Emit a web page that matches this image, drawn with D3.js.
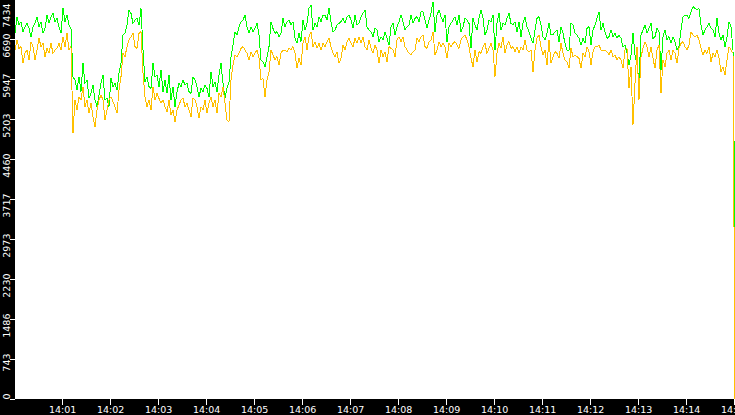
<!DOCTYPE html>
<html>
<head>
<meta charset="utf-8">
<script src="https://cdn.jsdelivr.net/npm/d3@7"></script>
<style>
  html, body { margin: 0; padding: 0; background: #000; }
  svg { display: block; }
</style>
</head>
<body>
<svg id="chart" width="735" height="415"></svg>
<script>
// ---- data ----
const startTime = new Date(2020, 0, 1, 14, 0, 1);
const stepMs = 2500;

const yTickValues = [0, 743, 1486, 2230, 2973, 3717, 4460, 5203, 5947, 6690, 7434];
const yTickLabels = ["0", "743", "1486", "2230", "2973", "3717", "4460", "5203", "5947", "6690", "7434"];

const greenValues = [
  // 14:00:01 ...
  6796,7105,6950,7012,6826,6919,6981,6888,6734,6919,6981,7105,6919,7012,6796,6888,7136,6981,7105,7167,7012,7074,6919,6796,7260,7012,7136,6950,6888,5990,5928,5742,5990,5711,6238,5866,5928,5587,5680,5835,5557,5433,5649,5866,6021,
  5557,5587,5433,5959,5804,5866,5742,6052,6238,6765,6796,6950,7229,7167,6981,7043,7074,6950,7260,6486,5897,5990,5804,5773,6238,5990,6021,5804,6114,5711,5928,5680,6021,5557,5804,5433,5711,5866,5804,5928,5835,5866,5711,5680,5990,
  5928,5804,5618,5773,5711,5835,5773,5618,6083,5804,5897,5711,6021,6238,5866,5587,5773,5897,6362,6579,6826,6765,6919,7012,7043,7136,6919,6796,6919,6826,6888,6981,6765,6300,6269,6176,6362,6548,7012,6888,6796,6826,6734,6796,7074,
  6919,7012,7043,6950,7012,6703,6610,6796,6641,7043,6857,6981,7260,7322,6857,6981,6919,7105,7012,7136,7136,7043,7260,7012,6826,6857,6950,6981,7012,7074,6981,7105,7136,7043,6888,7136,6950,6981,7105,7167,7229,6919,6857,6826,6734,
  6888,6857,6641,6734,6672,6826,6703,6579,6919,6981,6765,6919,7012,7136,7012,6857,6919,6950,7136,6981,7074,7105,7012,7198,7198,7043,6888,7043,7167,7384,6826,7136,7229,7105,7012,7136,6641,6919,6981,7043,7105,6950,7136,6826,6919,7074,7043,6981,6517,7074,6950,6857,7074,7229,7074,6765,6857,7043,
  7012,7136,6486,6981,7167,6857,6981,6950,7074,7167,6981,6950,7012,6826,7012,6734,6981,7105,6919,6826,6703,6610,6857,7074,7105,6950,6734,6672,6796,6981,6765,6765,6826,6857,6641,6919,6796,6610,6486,6486,6981,6950,6796,6765,6703,6579,6703,6610,6888,6919,6579,6857,6950,7074,7198,
  6857,6981,6826,6703,6734,6857,6734,6796,6703,6765,6703,6548,6579,6424,6207,6393,6796,6393,6207,5928,6765,6857,6950,6796,6888,6981,6703,6734,6888,6826,6114,6734,6857,6672,6734,6610,6734,6641,6486,6548,6857,7105,7136,7136,7074,7198,7291,7260,7229,7260,6950,6765,6857,6919,6981,6888,6857,6734,7074,6796,6672,6765,6548,6734,7012,6919,6486,
  3140
];

const orangeValues = [
  6486,6672,6517,6548,6238,6424,6486,6300,6641,6548,6300,6486,6703,6548,6610,6362,6517,6424,6610,6424,6486,6517,6610,6486,6734,6548,6796,6486,6548,4937,5557,5371,5618,5557,5804,5433,5557,5309,5495,5247,5061,5371,5557,5649,5557,
  5185,5371,5557,5618,5526,5433,5309,5742,5990,6424,6362,6548,6672,6734,6796,6548,6517,6796,6826,6052,5618,5433,5557,5371,5804,5557,5680,5587,5495,5557,5433,5340,5557,5278,5371,5154,5371,5464,5557,5587,5433,5495,5371,5247,5587,
  5557,5433,5216,5433,5371,5557,5309,5495,5618,5433,5557,5309,5680,5618,5804,5495,5185,5154,5928,6207,6393,6362,6424,6517,6548,6486,6424,6300,6455,6362,6424,6486,6331,5928,5959,5618,5928,6083,6486,6393,6300,6362,6207,6424,6486,
  6486,6455,6517,6486,6548,6424,6145,6331,6207,6610,6734,6486,6734,6826,6548,6641,6517,6610,6486,6610,6548,6641,6703,6548,6424,6362,6455,6238,6331,6579,6486,6641,6703,6610,6548,6703,6610,6734,6610,6734,6548,6486,6672,6517,6424,
  6579,6486,6238,6486,6362,6455,6269,6548,6517,6486,6362,6672,6734,6641,6734,6548,6486,6424,6393,6455,6486,6703,6641,6734,6765,6548,6517,6641,6672,6826,6393,6486,6641,6548,6610,6548,6331,6610,6548,6610,6641,6579,6517,6672,6734,6765,6672,6548,6331,6176,6486,6269,6455,6424,6548,6610,6424,6517,
  6610,6486,5990,6424,6610,6517,6734,6424,6579,6641,6517,6548,6455,6548,6424,6548,6486,6672,6486,6455,6486,6083,6486,6703,6765,6548,6393,6486,6207,6672,6238,6362,6455,6424,6331,6610,6424,6300,6269,6145,6517,6362,6393,6362,6331,6145,6424,6362,6548,6455,6207,6455,6548,6548,6579,
  6486,6486,6486,6455,6393,6486,6362,6393,6300,6362,6300,6145,6486,6517,5773,6176,5092,5866,6548,5557,6362,6517,6641,6548,6362,6548,6331,6145,6486,6579,5680,6300,6176,6424,6486,6300,6486,6424,6238,6517,6610,6641,6548,6486,6579,6826,6765,6734,6765,6672,6517,6393,6486,6424,6548,6269,6424,6362,6486,6331,6083,6176,6021,6300,6548,6486,6424,
  0
];

// ---- chart ----
const W = 735, H = 415;
const plot = { left: 15, top: 0, right: 735, bottom: 399 };
const svg = d3.select("#chart");

svg.append("rect").attr("x", 0).attr("y", 0).attr("width", W).attr("height", H).attr("fill", "#000");
svg.append("rect")
  .attr("x", plot.left).attr("y", plot.top)
  .attr("width", plot.right - plot.left).attr("height", plot.bottom - plot.top)
  .attr("fill", "#fff");

const times = greenValues.map((_, i) => new Date(startTime.getTime() + i * stepMs));
const endTime = new Date(startTime.getTime() + 360 * stepMs);

const x = d3.scaleTime().domain([startTime, endTime]).range([plot.left, plot.right]);
const y = d3.scaleLinear().domain([0, 7434]).range([plot.bottom, -1]);

const clip = svg.append("clipPath").attr("id", "plotclip")
  .append("rect").attr("x", plot.left).attr("y", 0)
  .attr("width", plot.right - plot.left).attr("height", plot.bottom);

const line = d3.line().x((d, i) => x(times[i])).y(d => y(d));

const g = svg.append("g").attr("clip-path", "url(#plotclip)");
g.append("path").datum(greenValues)
  .attr("d", line).attr("fill", "none").attr("stroke", "#00ff00")
  .attr("stroke-width", 1).attr("shape-rendering", "crispEdges");
g.append("path").datum(orangeValues)
  .attr("d", line).attr("fill", "none").attr("stroke", "#ffc000")
  .attr("stroke-width", 1).attr("shape-rendering", "crispEdges");

const fontFamily = "DejaVu Sans, Verdana, sans-serif";

// x axis
const xAxis = d3.axisBottom(x)
  .ticks(d3.timeMinute.every(1))
  .tickFormat(d3.timeFormat("%H:%M"))
  .tickSize(6).tickPadding(1.5);
const xg = svg.append("g").attr("transform", `translate(0,${plot.bottom})`).call(xAxis);
xg.select(".domain").remove();
xg.selectAll(".tick line").attr("stroke", "#fff").attr("shape-rendering", "crispEdges");
xg.selectAll(".tick text").attr("fill", "#fff")
  .style("font-family", fontFamily).style("font-size", "9.5px");

// y axis
const yAxis = d3.axisLeft(y)
  .tickValues(yTickValues)
  .tickFormat((d, i) => yTickLabels[i])
  .tickSize(5);
const yg = svg.append("g").attr("transform", `translate(${plot.left},0)`).call(yAxis);
yg.select(".domain").remove();
yg.selectAll(".tick line").attr("stroke", "#fff").attr("shape-rendering", "crispEdges");
yg.selectAll(".tick text")
  .attr("x", 0).attr("dy", null).attr("y", 0)
  .attr("text-anchor", "end")
  .attr("transform", d => `translate(-5,${Math.max(-6, 3 - y(d))}) rotate(-90)`)
  .attr("fill", "#fff")
  .style("font-family", fontFamily).style("font-size", "9.5px");
</script>
</body>
</html>
